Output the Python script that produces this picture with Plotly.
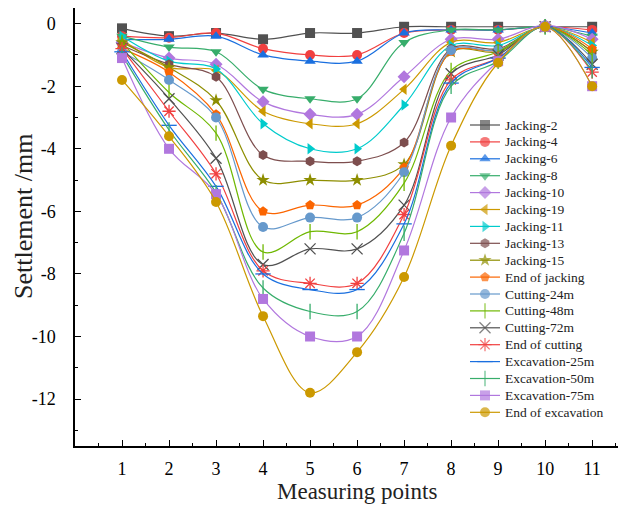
import plotly.graph_objects as go

x_points = [1, 2, 3, 4, 5, 6, 7, 8, 9, 10, 11]

names = ["Jacking-2", "Jacking-4", "Jacking-6", "Jacking-8", "Jacking-10", "Jacking-19",
         "Jacking-11", "Jacking-13", "Jacking-15", "End of jacking", "Cutting-24m",
         "Cutting-48m", "Cutting-72m", "End of cutting", "Excavation-25m",
         "Excavation-50m", "Excavation-75m", "End of excavation"]

jacking_2 = [-0.15, -0.4, -0.3, -0.5, -0.3, -0.3, -0.1, -0.1, -0.1, -0.1, -0.1]
jacking_4 = [-0.4, -0.45, -0.3, -0.8, -1.0, -1.0, -0.3, -0.2, -0.2, -0.1, -0.2]
jacking_6 = [-0.5, -0.5, -0.4, -1.0, -1.2, -1.2, -0.3, -0.2, -0.2, -0.1, -0.3]
jacking_8 = [-0.4, -0.75, -0.9, -2.1, -2.4, -2.4, -0.6, -0.2, -0.2, -0.1, -0.4]
jacking_10 = [-0.6, -1.1, -1.3, -2.5, -2.9, -2.9, -1.7, -0.5, -0.5, -0.05, -0.5]
jacking_19 = [-0.5, -1.4, -1.5, -2.8, -3.2, -3.2, -2.1, -0.6, -0.6, -0.1, -0.6]
jacking_11 = [-0.4, -1.2, -1.45, -3.2, -4.0, -4.0, -2.6, -0.7, -0.7, -0.1, -0.7]
jacking_13 = [-0.7, -1.3, -1.7, -4.2, -4.4, -4.4, -3.8, -0.8, -0.8, -0.1, -0.9]
jacking_15 = [-0.6, -1.4, -2.45, -5.0, -5.0, -5.0, -4.5, -0.9, -0.9, -0.1, -0.9]
end_jacking = [-0.8, -1.55, -2.9, -6.0, -5.8, -5.8, -4.6, -0.9, -0.85, -0.1, -0.8]
cutting_24 = [-0.9, -1.8, -3.0, -6.5, -6.2, -6.2, -4.75, -0.85, -0.85, -0.1, -1.1]
cutting_48 = [-0.6, -2.2, -3.5, -7.3, -6.65, -6.65, -5.1, -1.5, -0.9, -0.1, -1.0]
cutting_72 = [-0.8, -2.4, -4.3, -7.7, -7.2, -7.2, -5.8, -1.6, -1.0, -0.1, -1.3]
end_cutting = [-0.8, -2.8, -4.8, -7.9, -8.3, -8.3, -6.1, -1.8, -1.1, -0.1, -1.55]
excavation_25 = [-0.9, -3.25, -5.2, -8.0, -8.5, -8.5, -6.4, -1.9, -1.1, -0.1, -1.4]
excavation_50 = [-1.0, -3.4, -5.4, -8.45, -9.2, -9.2, -6.7, -2.0, -1.2, -0.1, -1.5]
excavation_75 = [-1.1, -4.0, -5.45, -8.8, -10.0, -10.0, -7.25, -3.0, -1.2, -0.1, -2.0]
end_excavation = [-1.8, -3.6, -5.7, -9.35, -11.8, -10.5, -8.1, -3.9, -1.25, -0.1, -2.0]

series = [jacking_2, jacking_4, jacking_6, jacking_8, jacking_10, jacking_19,
          jacking_11, jacking_13, jacking_15, end_jacking, cutting_24, cutting_48,
          cutting_72, end_cutting, excavation_25, excavation_50, excavation_75,
          end_excavation]

colors = ["#515151", "#F14040", "#1A6FDF", "#37AD6B", "#B177DE", "#CC9900",
          "#00CBCC", "#7D4E4E", "#8E8E00", "#FB6501", "#6699CC", "#6FB802",
          "#515151", "#F14040", "#1A6FDF", "#37AD6B", "#B177DE", "#CC9900"]

symbols = ["square", "circle", "triangle-up", "triangle-down", "diamond", "triangle-left",
           "triangle-right", "hexagon", "star", "pentagon", "circle", "line-ns",
           "x-thin", "asterisk", "line-ew", "line-ns", "square", "circle"]

y_tickvals = [0, -2, -4, -6, -8, -10, -12]
y_ticktext = ["0", "-2", "-4", "-6", "-8", "-10", "-12"]
x_tickvals = [1, 2, 3, 4, 5, 6, 7, 8, 9, 10, 11]

open_symbols = {"line-ns", "line-ew", "x-thin", "asterisk"}
font_family = "Liberation Serif"

# Plot area in pixels (for the hand-built legend overlay axes)
PLOT_W, PLOT_H = 543, 438
LEG_X0, LEG_X1, LEG_TEXT_X = 395, 425, 428
LEG_Y0, LEG_DY = 117, 16.9


def marker_for(sym, col, size):
    if sym in open_symbols:
        return dict(symbol=sym, size=size, color=col, line=dict(color=col, width=1.3))
    return dict(symbol=sym, size=size, color=col, line=dict(width=0))


fig = go.Figure()
for name, vals, col, sym in zip(names, series, colors, symbols):
    fig.add_trace(go.Scatter(
        x=x_points, y=vals, name=name, mode="lines+markers",
        line=dict(color=col, width=1.2, shape="spline", smoothing=1.0),
        marker=marker_for(sym, col, 11 if sym in open_symbols else 10),
        showlegend=False,
    ))

annotations = []
for i, (name, col, sym) in enumerate(zip(names, colors, symbols)):
    yy = LEG_Y0 + i * LEG_DY
    mk = marker_for(sym, col, 11 if sym in open_symbols else 10)
    mk["size"] = [0, mk["size"], 0]
    fig.add_trace(go.Scatter(
        x=[LEG_X0, (LEG_X0 + LEG_X1) / 2, LEG_X1], y=[yy, yy, yy],
        xaxis="x2", yaxis="y2", mode="lines+markers",
        line=dict(color=col, width=1.2), marker=mk,
        showlegend=False, hoverinfo="skip",
    ))
    annotations.append(dict(
        text=name, xref="x2", yref="y2", x=LEG_TEXT_X, y=yy,
        xanchor="left", yanchor="middle", showarrow=False,
        font=dict(family=font_family, size=13.5, color="#222222"),
    ))

annotations += [
    dict(text="Measuring points", xref="paper", yref="paper",
         x=0.519, y=-0.105, xanchor="center", yanchor="middle", showarrow=False,
         font=dict(family=font_family, size=23, color="#222222")),
    dict(text="Settlement /mm", xref="paper", yref="paper",
         x=-0.096, y=0.525, xanchor="center", yanchor="middle", showarrow=False,
         textangle=-90, font=dict(family=font_family, size=26, color="#222222")),
]

fig.update_layout(
    width=624, height=508,
    margin=dict(l=75, r=6, t=8, b=62),
    paper_bgcolor="white", plot_bgcolor="white",
    font=dict(family=font_family, color="black"),
    showlegend=False,
    xaxis=dict(
        range=[0, 11.55], showgrid=False, zeroline=False,
        showline=True, linecolor="black", linewidth=1.5,
        tickmode="array", tickvals=x_tickvals,
        ticks="inside", ticklen=6, tickwidth=1.3, tickcolor="black",
        tickfont=dict(family=font_family, size=18, color="black"),
        ticklabelstandoff=6,
        minor=dict(tickmode="array", tickvals=[0.5 + i for i in range(12)],
                   ticks="inside", ticklen=3, tickwidth=1.3, tickcolor="black"),
    ),
    yaxis=dict(
        range=[-13.5, 0.5], showgrid=False, zeroline=False,
        showline=True, linecolor="black", linewidth=1.5,
        tickmode="array", tickvals=y_tickvals, ticktext=y_ticktext,
        ticks="inside", ticklen=6, tickwidth=1.3, tickcolor="black",
        tickfont=dict(family=font_family, size=18, color="black"),
        ticklabelstandoff=14,
        minor=dict(tickmode="array", tickvals=[-1, -3, -5, -7, -9, -11, -13],
                   ticks="inside", ticklen=3, tickwidth=1.3, tickcolor="black"),
    ),
    xaxis2=dict(range=[0, PLOT_W], overlaying="x", anchor="y2", visible=False,
                fixedrange=True),
    yaxis2=dict(range=[PLOT_H, 0], overlaying="y", anchor="x2", visible=False,
                fixedrange=True),
    annotations=annotations,
)

fig.write_html("out.html")
